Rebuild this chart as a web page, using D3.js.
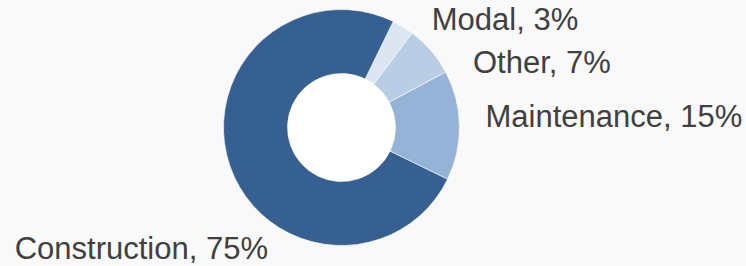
<!DOCTYPE html>
<html>
<head>
<meta charset="utf-8">
<script src="https://cdn.jsdelivr.net/npm/d3@7"></script>
<style>
  html, body { margin: 0; padding: 0; background: #f9f9f9; }
  svg { display: block; }
</style>
</head>
<body>
<div id="chart-container"></div>
<script>
// Chart data
const categories = ["Modal", "Other", "Maintenance", "Construction"];
const shares = [3, 7, 15, 75];
const colors = ["#dce6f2", "#b9cde5", "#95b3d7", "#366092"];

const data = categories.map((c, i) => ({ name: c, value: shares[i] }));

// Dimensions
const width = 746, height = 266;
const cx = 341.5, cy = 127.5;
const outerR = 118, innerR = 54;

const svg = d3.select("#chart-container")
    .append("svg")
    .attr("width", width)
    .attr("height", height);

const g = svg.append("g")
    .attr("transform", "translate(" + cx + "," + cy + ")");

// Pie starts a little right of 12 o'clock, clockwise
const start = 26 * Math.PI / 180;
const pie = d3.pie()
    .value(d => d.value)
    .sort(null)
    .startAngle(start)
    .endAngle(start + 2 * Math.PI);

const arc = d3.arc().innerRadius(innerR).outerRadius(outerR);
const labelArc = d3.arc().innerRadius(130).outerRadius(130);

const arcs = pie(data);

// white hole
g.append("circle").attr("r", innerR).attr("fill", "#ffffff");

g.selectAll("path.slice")
    .data(arcs)
    .enter().append("path")
    .attr("class", "slice")
    .attr("d", arc)
    .attr("fill", (d, i) => colors[i])
    .attr("stroke", "#ffffff")
    .attr("stroke-width", 0.6);

// label nudges relative to the outer centroid
const nudge = {
    "Modal": [22.5, 13.5, "start"],
    "Other": [32.8, 30.4, "start"],
    "Maintenance": [14, 1.5, "start"],
    "Construction": [49.4, 89, "end"]
};

g.selectAll("text.label")
    .data(arcs)
    .enter().append("text")
    .attr("class", "label")
    .attr("transform", d => {
        const p = labelArc.centroid(d);
        const n = nudge[d.data.name];
        return "translate(" + (p[0] + n[0]) + "," + (p[1] + n[1]) + ")";
    })
    .attr("text-anchor", d => nudge[d.data.name][2])
    .style("font-family", "'Liberation Sans', Arial, sans-serif")
    .style("font-size", "31px")
    .style("fill", "#404040")
    .text(d => d.data.name + ", " + d.data.value + "%");
</script>
</body>
</html>
